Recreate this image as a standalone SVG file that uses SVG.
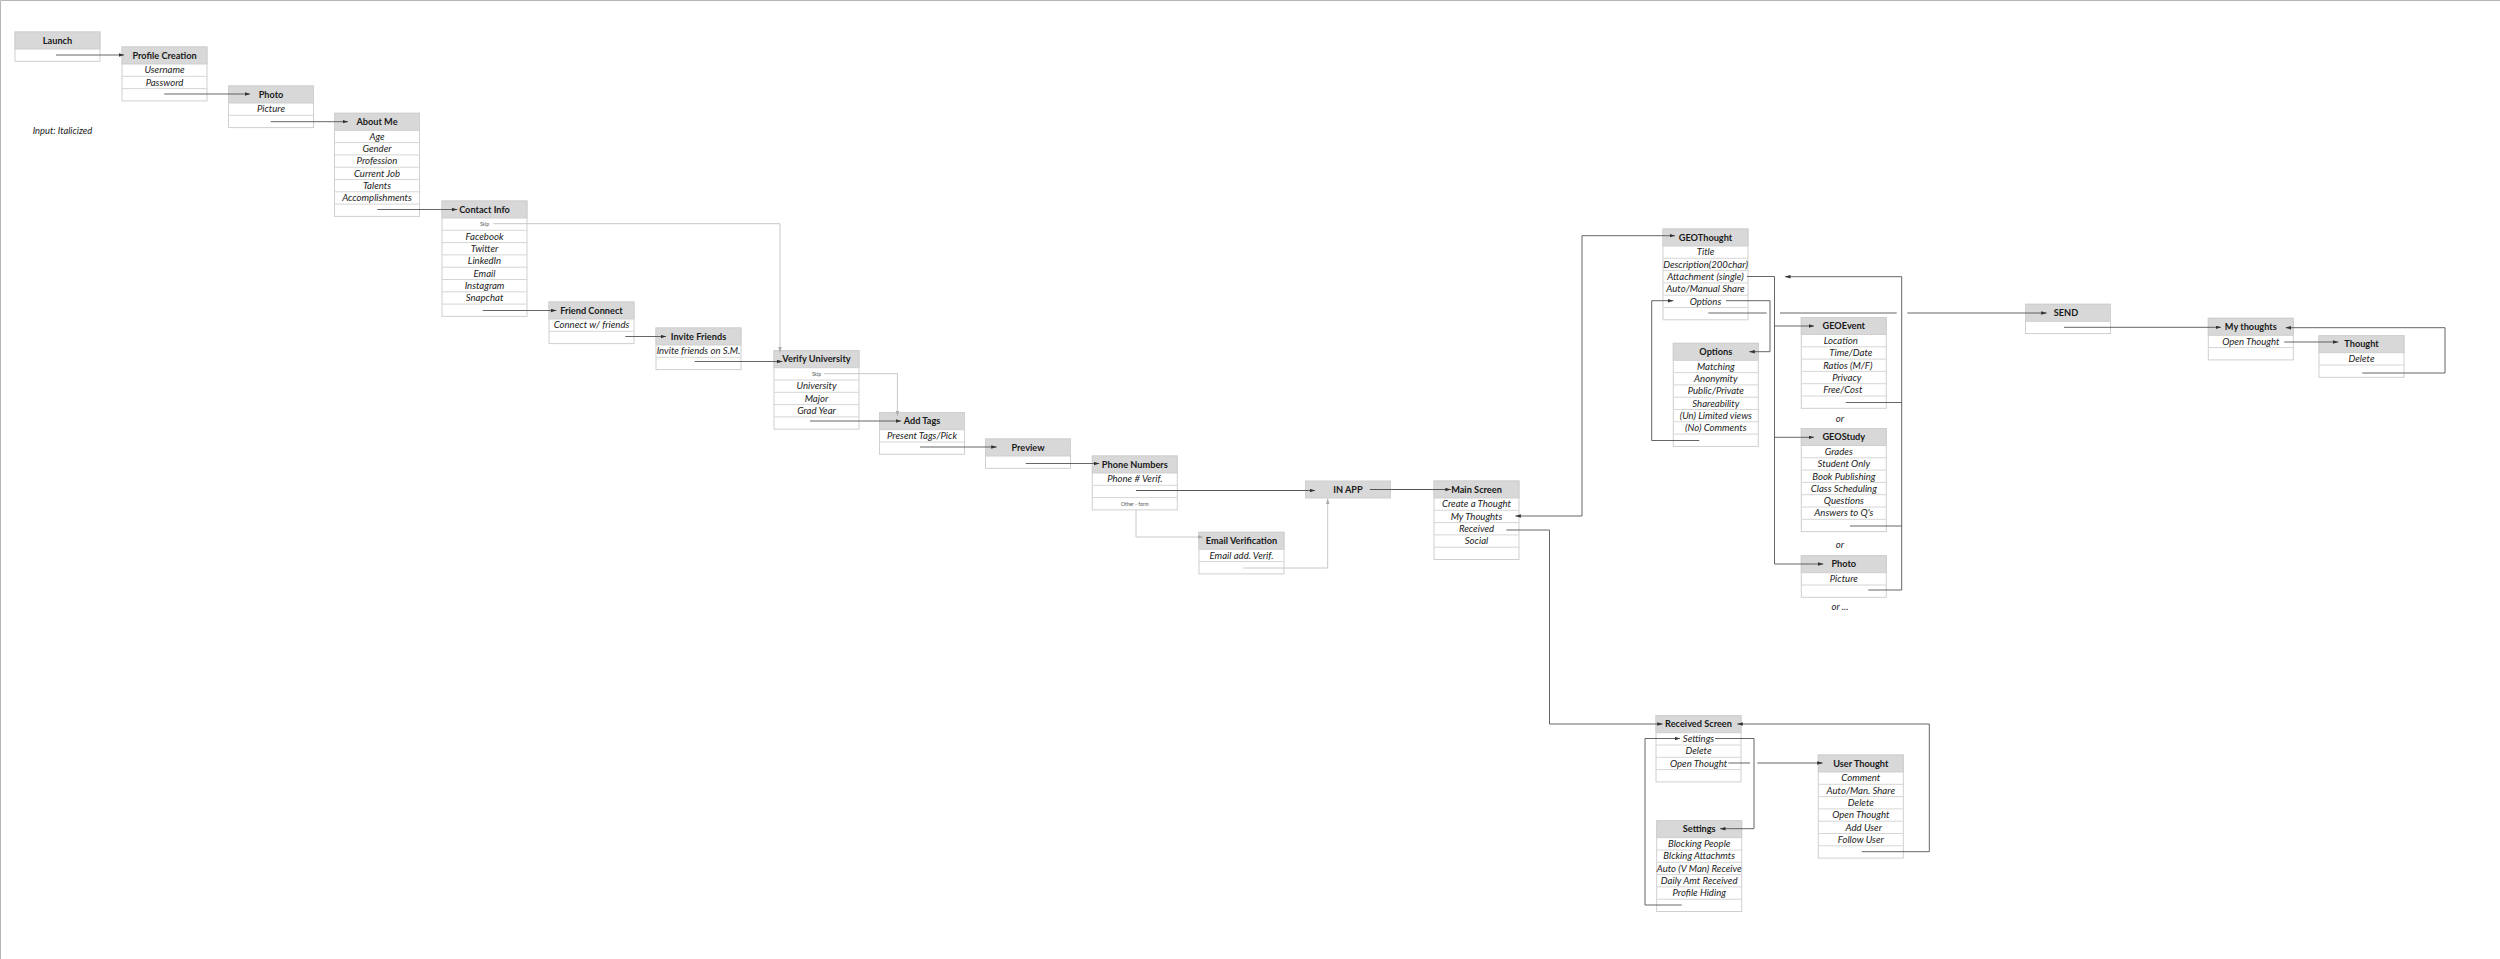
<svg xmlns="http://www.w3.org/2000/svg" width="2500" height="959" viewBox="0 0 2500 959">
<style>
.box{fill:#fff;stroke:#cfcfcf;stroke-width:1}
.hd{fill:#d8d8d8;stroke:#cfcfcf;stroke-width:1}
.sep{stroke:#d6d6d6;stroke-width:1}
.ht{font-family:Lato,"Liberation Sans",sans-serif;font-weight:bold;font-size:9.2px;fill:#1a1a1a;text-anchor:middle}
.rt{font-family:Lato,"Liberation Sans",sans-serif;font-style:italic;font-size:9.6px;fill:#222;text-anchor:middle}
.sm{font-family:Lato,"Liberation Sans",sans-serif;font-size:5px;fill:#555;text-anchor:middle}
.lb{font-family:Lato,"Liberation Sans",sans-serif;font-style:italic;font-size:9.4px;fill:#222}
.c{fill:none;stroke:#555;stroke-width:0.9}
.cl{fill:none;stroke:#c2c2c2;stroke-width:0.9}
.frame{fill:none;stroke:#b5b5b5;stroke-width:1}
</style>
<defs>
<marker id="a" markerUnits="userSpaceOnUse" markerWidth="6" markerHeight="4" refX="5.5" refY="1.8" orient="auto-start-reverse"><path d="M0,0 L5.5,1.8 L0,3.6z" fill="#333"/></marker>
<marker id="al" markerUnits="userSpaceOnUse" markerWidth="6" markerHeight="4" refX="5.5" refY="1.8" orient="auto-start-reverse"><path d="M0,0 L5.5,1.8 L0,3.6z" fill="#aaa"/></marker>
</defs>
<rect width="2500" height="959" fill="#fff"/>
<path class="frame" d="M0.5,959 V0.5 H2500"/>
<text class="lb" x="32.7" y="134.2">Input: Italicized</text>

<g id="n-launch" transform="translate(15,32)">
<rect class="box" width="85" height="29.3"/><rect class="hd" width="85" height="17"/>
<text class="ht" x="42.5" y="11.8">Launch</text>
</g>

<g id="n-profile" transform="translate(122,47)">
<rect class="box" width="85" height="53.9"/><rect class="hd" width="85" height="17"/>
<path class="sep" d="M0,29.3H85M0,41.6H85"/>
<text class="ht" x="42.5" y="11.8">Profile Creation</text>
<text class="rt" x="42.5" y="26.4">Username</text>
<text class="rt" x="42.5" y="38.7">Password</text>
</g>

<g id="n-photo" transform="translate(228.5,86)">
<rect class="box" width="85" height="41.6"/><rect class="hd" width="85" height="17"/>
<path class="sep" d="M0,29.3H85"/>
<text class="ht" x="42.5" y="11.8">Photo</text>
<text class="rt" x="42.5" y="26.4">Picture</text>
</g>

<g id="n-about" transform="translate(334.5,113.3)">
<rect class="box" width="85" height="103.1"/><rect class="hd" width="85" height="17"/>
<path class="sep" d="M0,29.3H85M0,41.6H85M0,53.9H85M0,66.2H85M0,78.5H85M0,90.8H85"/>
<text class="ht" x="42.5" y="11.8">About Me</text>
<text class="rt" x="42.5" y="26.4">Age</text>
<text class="rt" x="42.5" y="38.7">Gender</text>
<text class="rt" x="42.5" y="51">Profession</text>
<text class="rt" x="42.5" y="63.3">Current Job</text>
<text class="rt" x="42.5" y="75.6">Talents</text>
<text class="rt" x="42.5" y="87.9">Accomplishments</text>
</g>

<g id="n-contact" transform="translate(442,201)">
<rect class="box" width="85" height="115.4"/><rect class="hd" width="85" height="17"/>
<path class="sep" d="M0,29.3H85M0,41.6H85M0,53.9H85M0,66.2H85M0,78.5H85M0,90.8H85M0,103.1H85"/>
<text class="ht" x="42.5" y="11.8">Contact Info</text>
<text class="sm" x="42.5" y="24.9">Skip</text>
<text class="rt" x="42.5" y="38.7">Facebook</text>
<text class="rt" x="42.5" y="51">Twitter</text>
<text class="rt" x="42.5" y="63.3">LinkedIn</text>
<text class="rt" x="42.5" y="75.6">Email</text>
<text class="rt" x="42.5" y="87.9">Instagram</text>
<text class="rt" x="42.5" y="100.2">Snapchat</text>
</g>

<g id="n-friend" transform="translate(549,302)">
<rect class="box" width="85" height="41.6"/><rect class="hd" width="85" height="17"/>
<path class="sep" d="M0,29.3H85"/>
<text class="ht" x="42.5" y="11.8">Friend Connect</text>
<text class="rt" x="42.5" y="26.4">Connect w/ friends</text>
</g>

<g id="n-invite" transform="translate(656,328)">
<rect class="box" width="85" height="41.6"/><rect class="hd" width="85" height="17"/>
<path class="sep" d="M0,29.3H85"/>
<text class="ht" x="42.5" y="11.8">Invite Friends</text>
<text class="rt" x="42.5" y="26.4">Invite friends on S.M.</text>
</g>

<g id="n-verify" transform="translate(774,350.7)">
<rect class="box" width="85" height="78.5"/><rect class="hd" width="85" height="17"/>
<path class="sep" d="M0,29.3H85M0,41.6H85M0,53.9H85M0,66.2H85"/>
<text class="ht" x="42.5" y="11.8">Verify University</text>
<text class="sm" x="42.5" y="24.9">Skip</text>
<text class="rt" x="42.5" y="38.7">University</text>
<text class="rt" x="42.5" y="51">Major</text>
<text class="rt" x="42.5" y="63.3">Grad Year</text>
</g>

<g id="n-addtags" transform="translate(879.5,412.7)">
<rect class="box" width="85" height="41.6"/><rect class="hd" width="85" height="17"/>
<path class="sep" d="M0,29.3H85"/>
<text class="ht" x="42.5" y="11.8">Add Tags</text>
<text class="rt" x="42.5" y="26.4">Present Tags/Pick</text>
</g>

<g id="n-preview" transform="translate(985.5,439)">
<rect class="box" width="85" height="29.3"/><rect class="hd" width="85" height="17"/>
<text class="ht" x="42.5" y="11.8">Preview</text>
</g>

<g id="n-phone" transform="translate(1092.3,456)">
<rect class="box" width="85" height="53.9"/><rect class="hd" width="85" height="17"/>
<path class="sep" d="M0,29.3H85M0,41.6H85"/>
<text class="ht" x="42.5" y="11.8">Phone Numbers</text>
<text class="rt" x="42.5" y="26.4">Phone # Verif.</text>
<text class="sm" x="42.5" y="49.5">Other - form</text>
</g>

<g id="n-inapp" transform="translate(1305.5,481)">
<rect class="hd" width="85" height="17"/>
<text class="ht" x="42.5" y="11.8">IN APP</text>
</g>

<g id="n-email" transform="translate(1199,532.3)">
<rect class="box" width="85" height="41.6"/><rect class="hd" width="85" height="17"/>
<path class="sep" d="M0,29.3H85"/>
<text class="ht" x="42.5" y="11.8">Email Verification</text>
<text class="rt" x="42.5" y="26.4">Email add. Verif.</text>
</g>

<g id="n-main" transform="translate(1434,481)">
<rect class="box" width="85" height="78.5"/><rect class="hd" width="85" height="17"/>
<path class="sep" d="M0,29.3H85M0,41.6H85M0,53.9H85M0,66.2H85"/>
<text class="ht" x="42.5" y="11.8">Main Screen</text>
<text class="rt" x="42.5" y="26.4">Create a Thought</text>
<text class="rt" x="42.5" y="38.7">My Thoughts</text>
<text class="rt" x="42.5" y="51">Received</text>
<text class="rt" x="42.5" y="63.3">Social</text>
</g>

<g id="n-geothought" transform="translate(1663,229)">
<rect class="box" width="85" height="90.8"/><rect class="hd" width="85" height="17"/>
<path class="sep" d="M0,29.3H85M0,41.6H85M0,53.9H85M0,66.2H85M0,78.5H85"/>
<text class="ht" x="42.5" y="11.8">GEOThought</text>
<text class="rt" x="42.5" y="26.4">Title</text>
<text class="rt" x="42.5" y="38.7">Description(200char)</text>
<text class="rt" x="42.5" y="51">Attachment (single)</text>
<text class="rt" x="42.5" y="63.3">Auto/Manual Share</text>
<text class="rt" x="42.5" y="75.6">Options</text>
</g>

<g id="n-options" transform="translate(1673.3,343.3)">
<rect class="box" width="85" height="103.1"/><rect class="hd" width="85" height="17"/>
<path class="sep" d="M0,29.3H85M0,41.6H85M0,53.9H85M0,66.2H85M0,78.5H85M0,90.8H85"/>
<text class="ht" x="42.5" y="11.8">Options</text>
<text class="rt" x="42.5" y="26.4">Matching</text>
<text class="rt" x="42.5" y="38.7">Anonymity</text>
<text class="rt" x="42.5" y="51">Public/Private</text>
<text class="rt" x="42.5" y="63.3">Shareability</text>
<text class="rt" x="42.5" y="75.6">(Un) Limited views</text>
<text class="rt" x="42.5" y="87.9">(No) Comments</text>
</g>

<g id="n-geoevent" transform="translate(1801.3,317.5)">
<rect class="box" width="85" height="90.8"/><rect class="hd" width="85" height="17"/>
<path class="sep" d="M0,29.3H85M0,41.6H85M0,53.9H85M0,66.2H85M0,78.5H85"/>
<text class="ht" x="42.5" y="11.8">GEOEvent</text>
<text class="rt" x="39.5" y="26.4">Location</text>
<text class="rt" x="49.5" y="38.7">Time/Date</text>
<text class="rt" x="46.5" y="51">Ratios (M/F)</text>
<text class="rt" x="45.5" y="63.3">Privacy</text>
<text class="rt" x="41.5" y="75.6">Free/Cost</text>
</g>
<text class="rt" x="1840" y="422">or</text>

<g id="n-geostudy" transform="translate(1801.3,428.5)">
<rect class="box" width="85" height="103.1"/><rect class="hd" width="85" height="17"/>
<path class="sep" d="M0,29.3H85M0,41.6H85M0,53.9H85M0,66.2H85M0,78.5H85M0,90.8H85"/>
<text class="ht" x="42.5" y="11.8">GEOStudy</text>
<text class="rt" x="37.5" y="26.4">Grades</text>
<text class="rt" x="42.5" y="38.7">Student Only</text>
<text class="rt" x="42.5" y="51">Book Publishing</text>
<text class="rt" x="42.5" y="63.3">Class Scheduling</text>
<text class="rt" x="42.5" y="75.6">Questions</text>
<text class="rt" x="42.5" y="87.9">Answers to Q's</text>
</g>
<text class="rt" x="1840" y="548">or</text>

<g id="n-photo2" transform="translate(1801.3,555.7)">
<rect class="box" width="85" height="41.6"/><rect class="hd" width="85" height="17"/>
<path class="sep" d="M0,29.3H85"/>
<text class="ht" x="42.5" y="11.8">Photo</text>
<text class="rt" x="42.5" y="26.4">Picture</text>
</g>
<text class="rt" x="1840" y="610">or ...</text>

<g id="n-send" transform="translate(2025.5,304.3)">
<rect class="box" width="85" height="29.3"/><rect class="hd" width="85" height="17"/>
<text class="ht" x="40.5" y="11.8">SEND</text>
</g>

<g id="n-mythoughts" transform="translate(2208.3,318.3)">
<rect class="box" width="85" height="41.6"/><rect class="hd" width="85" height="17"/>
<path class="sep" d="M0,29.3H85"/>
<text class="ht" x="42.5" y="11.8">My thoughts</text>
<text class="rt" x="42.5" y="26.4">Open Thought</text>
</g>

<g id="n-thought" transform="translate(2319,335.7)">
<rect class="box" width="85" height="41.6"/><rect class="hd" width="85" height="17"/>
<path class="sep" d="M0,29.3H85"/>
<text class="ht" x="42.5" y="11.8">Thought</text>
<text class="rt" x="42.5" y="26.4">Delete</text>
</g>

<g id="n-received" transform="translate(1656,715.7)">
<rect class="box" width="85" height="66.2"/><rect class="hd" width="85" height="17"/>
<path class="sep" d="M0,29.3H85M0,41.6H85M0,53.9H85"/>
<text class="ht" x="42.5" y="11.8">Received Screen</text>
<text class="rt" x="42.5" y="26.4">Settings</text>
<text class="rt" x="42.5" y="38.7">Delete</text>
<text class="rt" x="42.5" y="51">Open Thought</text>
</g>

<g id="n-settings" transform="translate(1656.7,820.7)">
<rect class="box" width="85" height="90.8"/><rect class="hd" width="85" height="17"/>
<path class="sep" d="M0,29.3H85M0,41.6H85M0,53.9H85M0,66.2H85M0,78.5H85"/>
<text class="ht" x="42.5" y="11.8">Settings</text>
<text class="rt" x="42.5" y="26.4">Blocking People</text>
<text class="rt" x="42.5" y="38.7">Blcking Attachmts</text>
<text class="rt" x="42.5" y="51">Auto (V Man) Receive</text>
<text class="rt" x="42.5" y="63.3">Daily Amt Received</text>
<text class="rt" x="42.5" y="75.6">Profile Hiding</text>
</g>

<g id="n-userthought" transform="translate(1818.3,755)">
<rect class="box" width="85" height="103.1"/><rect class="hd" width="85" height="17"/>
<path class="sep" d="M0,29.3H85M0,41.6H85M0,53.9H85M0,66.2H85M0,78.5H85M0,90.8H85"/>
<text class="ht" x="42.5" y="11.8">User Thought</text>
<text class="rt" x="42.5" y="26.4">Comment</text>
<text class="rt" x="42.5" y="38.7">Auto/Man. Share</text>
<text class="rt" x="42.5" y="51">Delete</text>
<text class="rt" x="42.5" y="63.3">Open Thought</text>
<text class="rt" x="45.5" y="75.6">Add User</text>
<text class="rt" x="42.5" y="87.9">Follow User</text>
</g>

<g id="connectors">
<path class="c" marker-end="url(#a)" d="M56,55 H124"/>
<path class="c" marker-end="url(#a)" d="M164.3,94 H250"/>
<path class="c" marker-end="url(#a)" d="M270.7,121.7 H348"/>
<path class="c" marker-end="url(#a)" d="M377.3,209.5 H457.3"/>
<path class="c" marker-end="url(#a)" d="M482.8,310.5 H556.4"/>
<path class="c" marker-end="url(#a)" d="M625.3,336.5 H666"/>
<path class="c" marker-end="url(#a)" d="M694.6,361.5 H782.5"/>
<path class="c" marker-end="url(#a)" d="M810,421 H901"/>
<path class="c" marker-end="url(#a)" d="M920,447 H996.7"/>
<path class="c" marker-end="url(#a)" d="M1025.7,463.5 H1099.3"/>
<path class="c" marker-end="url(#a)" d="M1136,490.5 H1315" style="stroke-width:1.2"/>
<path class="c" marker-end="url(#a)" d="M1370,489.5 H1450.8" style="stroke-width:1.2"/>
<path class="c" marker-start="url(#a)" marker-end="url(#a)" d="M1515.4,516 H1582 V235.7 H1675"/>
<path class="c" marker-end="url(#a)" d="M1506.4,530 H1549.5 V724 H1662.7"/>
<path class="c" marker-end="url(#a)" d="M1747,276.5 H1774.5 V564 H1823.3"/>
<path class="c" marker-end="url(#a)" d="M1774.5,326 H1814"/>
<path class="c" marker-end="url(#a)" d="M1774.5,437.3 H1814"/>
<path class="c" d="M1845.7,402.5 H1901.7"/>
<path class="c" d="M1850,526 H1901.7"/>
<path class="c" marker-end="url(#a)" d="M1868.3,590 H1901.7 V276.7 H1785"/>
<path class="c" marker-end="url(#a)" d="M1726,300.7 H1770 V351.7 H1749.3"/>
<path class="c" marker-end="url(#a)" d="M1699.3,440.5 H1651.7 V300.7 H1673.3"/>
<path class="c" d="M1708.3,313 H1766.7"/>
<path class="c" d="M1780,313 H1896.7"/>
<path class="c" marker-end="url(#a)" d="M1907.3,313 H2046.7"/>
<path class="c" marker-end="url(#a)" d="M2064,327.3 H2221"/>
<path class="c" marker-end="url(#a)" d="M2284.3,342 H2338.3"/>
<path class="c" marker-end="url(#a)" d="M2362.3,373 H2445 V327.7 H2285.7"/>
<path class="c" marker-end="url(#a)" d="M1681.7,905 H1645 V738.5 H1680"/>
<path class="c" marker-end="url(#a)" d="M1715,738.5 H1754 V828.7 H1720"/>
<path class="c" d="M1728.3,763 H1750"/>
<path class="c" marker-end="url(#a)" d="M1757.3,763 H1822.7"/>
<path class="c" marker-end="url(#a)" d="M1861.7,851.7 H1929.3 V724 H1737.3"/>
<path class="cl" marker-end="url(#al)" d="M493.3,223.7 H780 V352.5"/>
<path class="cl" marker-end="url(#al)" d="M824,373.7 H897.4 V416"/>
<path class="cl" marker-end="url(#al)" d="M1136,510 V537 H1203.3"/>
<path class="cl" marker-end="url(#al)" d="M1243.3,568 H1327.7 V498.5"/>
</g>
</svg>
